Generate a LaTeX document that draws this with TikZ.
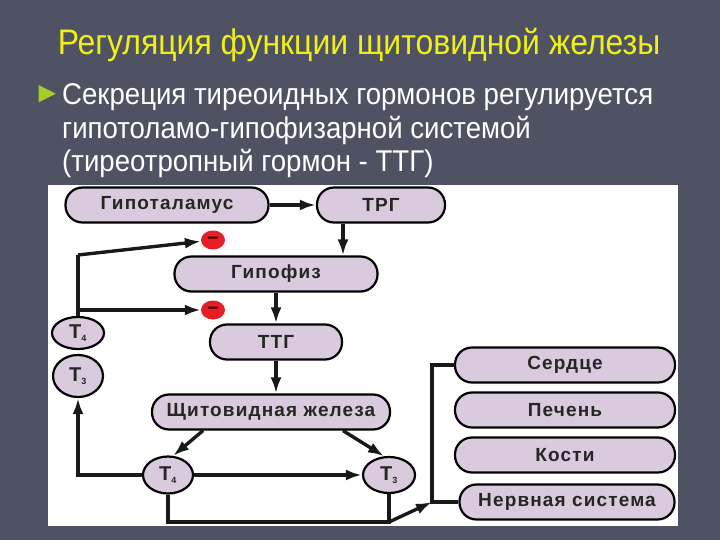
\documentclass[tikz,border=0pt]{standalone}
\usepackage{fontspec}
\setmainfont{Liberation Sans}
\newfontfamily\headfont[FakeStretch=0.9]{Liberation Sans}
\newfontfamily\bodyfont[FakeStretch=0.92]{Liberation Sans}
\newfontfamily\boxfont[LetterSpace=6]{Liberation Sans}
\usepackage{tikz}
\usetikzlibrary{positioning,arrows.meta,shapes.geometric,calc}
\usepackage{xcolor}
\definecolor{slate}{RGB}{78,82,98}
\definecolor{lilac}{RGB}{218,202,222}
\definecolor{headyellow}{RGB}{240,240,20}
\definecolor{bulletgreen}{RGB}{165,205,40}
\definecolor{minusred}{RGB}{230,30,40}

\begin{document}
\begin{tikzpicture}[x=1pt,y=-1pt,
    organ/.style={draw=black,line width=2.2pt,fill=lilac,rounded corners=17pt,minimum height=35pt,inner sep=0pt,font=\boxfont\bfseries\fontsize{19}{20}\selectfont,text=black!85},
    horm/.style={ellipse,draw=black,line width=2.2pt,fill=lilac,inner sep=0pt,font=\boxfont\bfseries\fontsize{20}{20}\selectfont,text=black!85},
    minus/.style={ellipse,fill=minusred,minimum width=24pt,minimum height=19pt,inner sep=0pt,font=\bfseries\fontsize{20}{20}\selectfont,text=black!80!red},
    line/.style={line width=3.4pt,black!90},
    arr/.style={line,-{Latex[length=16pt,width=11pt]}},
]
\fill[slate] (0,0) rectangle (720,540);
\fill[white] (48,185) rectangle (678,526);
\node[font=\headfont\fontsize{35.5}{36}\selectfont,text=headyellow] (title) at (359,45) {Регуляция функции щитовидной железы};
\node[text=bulletgreen,font=\fontsize{29}{29}\selectfont,anchor=base west,inner sep=0pt] (bull) at (33,103) {►};
\node[font=\bodyfont\fontsize{30}{30}\selectfont,text=white,anchor=base west,inner sep=0pt] (txa) at (62,105) {Секреция тиреоидных гормонов регулируется};
\node[font=\bodyfont\fontsize{30}{30}\selectfont,text=white,anchor=base west,inner sep=0pt] (txb) at (62,139) {гипотоламо-гипофизарной системой};
\node[font=\bodyfont\fontsize{30}{30}\selectfont,text=white,anchor=base west,inner sep=0pt] (txc) at (62,172) {(тиреотропный гормон - ТТГ)};

\node[organ,minimum width=203pt] (hypo) at (167,205) {Гипоталамус};
\node[organ,minimum width=128pt] (trg) at (381,205) {ТРГ};
\node[organ,minimum width=203pt] (gipofiz) at (276,274) {Гипофиз};
\node[organ,minimum width=132pt] (ttg) at (276,342) {ТТГ};
\node[organ,minimum width=238pt] (gland) at (271,412) {Щитовидная железа};
\node[horm,minimum width=52pt,minimum height=32pt] (tfour) at (78,333) {Т\textsubscript{\fontsize{9}{9}\selectfont 4}};
\node[horm,minimum width=50pt,minimum height=42pt] (tthree) at (78,376) {Т\textsubscript{\fontsize{9}{9}\selectfont 3}};
\node[horm,minimum width=50pt,minimum height=37pt] (bfour) at (168,475) {Т\textsubscript{\fontsize{9}{9}\selectfont 4}};
\node[horm,minimum width=52pt,minimum height=36pt] (bthree) at (389,475) {Т\textsubscript{\fontsize{9}{9}\selectfont 3}};
\node[organ,minimum width=220pt] (heart) at (565,365) {Сердце};
\node[organ,minimum width=220pt] (liver) at (565,410) {Печень};
\node[organ,minimum width=220pt] (bones) at (565,455) {Кости};
\node[organ,minimum width=215pt] (nerve) at (567,502) {Нервная система};
\node[minus] (mone) at (213,240) {\raisebox{-3pt}{--}};
\node[minus] (mtwo) at (213,310) {\raisebox{-3pt}{--}};

\coordinate (knee) at (78,255);
\coordinate (trgout) at ($(trg.south)+(-38,0)$);
\coordinate (glout) at ($(gland.south)+(-68,0)$);
\coordinate (glin) at ($(gland.south)+(72,0)$);
\coordinate (base) at (168,522);
\coordinate (brbot) at (432,502);

\draw[arr] (hypo) -- (trg);
\draw[arr] (trgout) -- (trgout |- gipofiz.north);
\draw[arr] (gipofiz) -- (ttg);
\draw[arr] (ttg.south) -- (ttg.south |- gland.north);
\draw[arr] (glout) -- (bfour.75);
\draw[arr] (glin) -- (bthree.105);
\draw[arr] (bfour) -- (bthree);
\draw[arr] (bfour.west) -| (tthree.south);
\draw[line] (tfour.north) -- (knee);
\draw[arr] (knee) -- (mone);
\draw[arr] (tfour.north |- mtwo) -- (mtwo);
\draw[line] (bfour.south) -- (base) -- (bthree.south |- base) -- (bthree.south);
\draw[arr] (bthree.south |- base) -- (brbot);
\draw[line] (heart.west) -| (brbot) -- (nerve.west);
\end{tikzpicture}
\end{document}
